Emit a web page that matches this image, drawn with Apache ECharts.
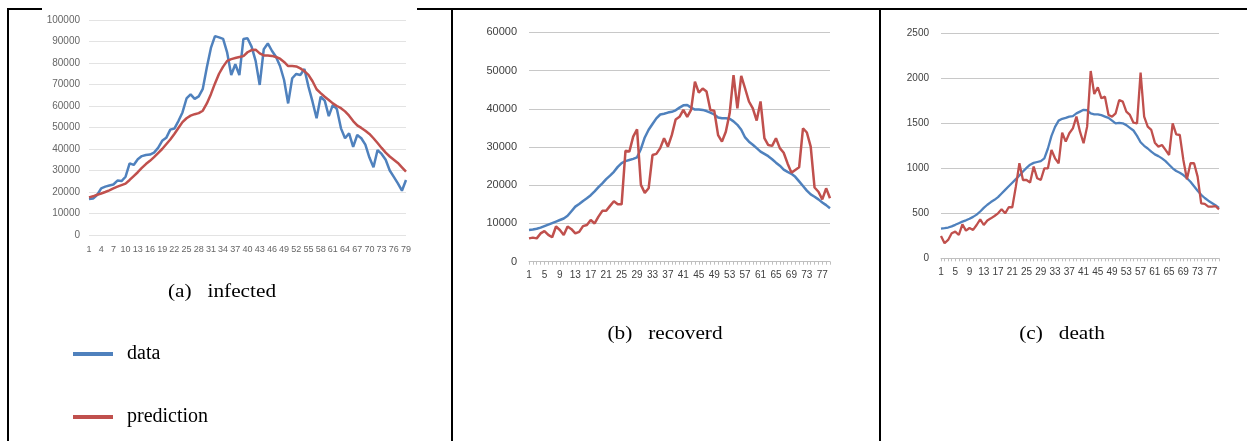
<!DOCTYPE html>
<html><head><meta charset="utf-8">
<script src="https://cdn.jsdelivr.net/npm/echarts@6/dist/echarts.min.js"></script>
<style>html,body{margin:0;padding:0;background:#fff}#c{width:1247px;height:441px}</style>
</head><body><div id="c"></div>
<script>
const days = ['1','2','3','4','5','6','7','8','9','10','11','12','13','14','15','16','17','18','19','20',
'21','22','23','24','25','26','27','28','29','30','31','32','33','34','35','36','37','38','39','40',
'41','42','43','44','45','46','47','48','49','50','51','52','53','54','55','56','57','58','59','60',
'61','62','63','64','65','66','67','68','69','70','71','72','73','74','75','76','77','78','79'];

const infectedData = [16700,17000,18600,21700,22500,23000,23500,25300,25100,27100,
33300,32600,35200,36700,37200,37400,38300,40500,43800,45200,
49000,49500,53000,57000,63500,65400,63300,64500,68000,78000,
87000,92500,91900,91200,84800,74400,79400,74400,91200,91500,
87600,81000,69800,86400,89100,85700,82900,78600,72100,61200,
72900,74900,74400,77200,69000,62000,54300,64300,62500,55300,
60500,58500,49600,45000,47300,41000,46500,45000,42000,36000,
31500,39500,37700,35000,30000,27000,24000,20600,25600];
const infectedPred = [17500,18000,18700,19300,20000,20800,21700,22500,23200,23900,
25600,27400,29200,31200,33000,34500,36200,38100,40000,42200,
44400,47000,49800,52500,54300,55500,56200,56700,57800,61200,
65500,70500,75000,78300,81000,81800,82300,82800,83200,85000,
86000,86200,84500,83500,83500,83300,82800,82000,80500,78600,
78600,78400,77500,76200,74500,71500,67800,66000,64300,62800,
61200,60000,59000,57500,55500,53000,51000,49800,48500,47000,
45000,42800,40500,38300,36500,35000,33500,31500,29500];

const recoveredData = [8300,8400,8600,8900,9300,9700,10100,10500,10900,11300,
12000,13200,14400,15100,15900,16600,17400,18400,19500,20500,
21600,22500,23500,24800,25800,26300,26600,26900,27300,29500,
32500,34500,36000,37500,38500,38700,39000,39200,39600,40300,
40900,41000,40300,39800,39800,39700,39400,39000,38500,37700,
37500,37500,37400,36700,35800,34500,32500,31400,30600,29700,
28800,28200,27600,26800,25900,25100,24100,23500,23000,22200,
21000,19800,18600,17600,17000,16300,15500,14800,14000];
const recoveredPred = [6100,6300,6100,7400,8000,7000,6400,9200,8300,7000,
9200,8500,7400,7800,9300,9600,10900,10000,11800,13300,
13300,14600,15800,15000,15000,29000,28800,32700,34600,20100,
18000,19200,27900,28200,29700,32300,30100,33100,37200,37900,
39700,37900,39700,47100,44200,45300,44500,39700,39500,33100,
31400,34000,38800,48800,40100,48600,45300,41900,40100,36900,
41900,32300,30500,30300,32300,29700,28500,25700,23300,24000,
24700,34900,33800,30100,19400,18300,16300,19200,16600];

const deathData = [330,335,342,355,372,390,408,422,440,460,
485,520,560,595,625,650,680,720,760,800,
840,880,920,965,1005,1040,1060,1070,1080,1110,
1220,1360,1460,1530,1550,1560,1575,1580,1610,1630,
1650,1645,1610,1600,1600,1590,1575,1560,1530,1500,
1505,1500,1480,1450,1420,1360,1290,1250,1220,1185,
1155,1135,1110,1080,1040,1000,970,950,925,890,
850,800,750,705,670,640,615,590,560];
const deathPred = [248,167,204,278,296,259,378,307,337,315,
370,433,370,419,444,470,500,544,500,567,
567,796,1056,870,870,841,1019,889,870,1000,
1000,1204,1111,1056,1396,1296,1389,1444,1574,1407,
1278,1463,2081,1826,1900,1778,1796,1593,1574,1611,
1759,1741,1630,1593,1507,1500,2063,1574,1463,1426,
1285,1241,1259,1204,1148,1500,1378,1370,1093,878,
1056,1056,907,611,604,574,574,581,544];

const BLUE = '#4f81bd', RED = '#c0504d';
const chart = echarts.init(document.getElementById('c'), null, {renderer:'canvas'});

function xAx(idx, interval, showLine, fs) {
  return {
    type:'category', gridIndex: idx, data: days, boundaryGap:false,
    axisLine:{show:showLine, lineStyle:{color:'#bfbfbf', width:1}},
    axisTick:{show:showLine, interval:0, length:3, lineStyle:{color:'#bfbfbf'}},
    axisLabel:{interval:interval, margin: showLine ? 9 : 10, fontSize:fs,
      fontFamily:'Liberation Sans Narrow, Liberation Sans, sans-serif', color: showLine ? '#404040' : '#666'},
    splitLine:{show:false}
  };
}
function yAx(idx, max, step, fs, margin, gridColor, labColor) {
  return {
    type:'value', gridIndex: idx, min:0, max:max, interval:step,
    axisLine:{show:false}, axisTick:{show:false},
    axisLabel:{fontSize:fs, margin:margin, fontFamily:'Liberation Sans, sans-serif', color:labColor,
      formatter: v => String(v)},
    splitLine:{lineStyle:{color:gridColor, width:1}}
  };
}
function ser(name, idx, values, color, w) {
  return {name:name, type:'line', xAxisIndex:idx, yAxisIndex:idx, data:values,
    symbol:'none', smooth:false, lineStyle:{color:color, width:w}, itemStyle:{color:color}};
}
function caption(x, y, text) {
  return {type:'text', x:x, y:y, scaleX:1.12,
    style:{text:text, font:'19px "Liberation Serif", serif', fill:'#000', align:'center', verticalAlign:'middle'}};
}

chart.setOption({
  animation:false,
  backgroundColor:'#ffffff',
  grid:[
    {left:89, top:20, width:317, height:215},
    {left:529, top:32.3, width:301, height:229.4},
    {left:941, top:33.3, width:278, height:225}
  ],
  xAxis:[xAx(0,2,false,9), xAx(1,3,true,10), xAx(2,3,true,10)],
  yAxis:[
    yAx(0,100000,10000,10,9,'#e3e3e3','#666'),
    yAx(1,60000,10000,11,12,'#c8c8c8','#404040'),
    yAx(2,2500,500,10,12,'#c8c8c8','#404040')
  ],
  legend:{
    data:['data','prediction'], orient:'vertical', left:73, top:344, padding:0,
    itemWidth:40, itemHeight:4, itemGap:43, icon:'rect',
    textStyle:{fontFamily:'Liberation Serif, serif', fontSize:20, color:'#000', lineHeight:20, padding:[0,0,0,9]}
  },
  series:[
    ser('data',0,infectedData,BLUE,2.5), ser('prediction',0,infectedPred,RED,2.5),
    ser('data',1,recoveredData,BLUE,2.5), ser('prediction',1,recoveredPred,RED,2.5),
    ser('data',2,deathData,BLUE,2.3), ser('prediction',2,deathPred,RED,2.3)
  ],
  graphic:[
    {type:'rect', shape:{x:7,y:8,width:35,height:2}, style:{fill:'#000'}},
    {type:'rect', shape:{x:417,y:8,width:830,height:2}, style:{fill:'#000'}},
    {type:'rect', shape:{x:7,y:8,width:2,height:433}, style:{fill:'#000'}},
    {type:'rect', shape:{x:451,y:8,width:2,height:433}, style:{fill:'#000'}},
    {type:'rect', shape:{x:879,y:8,width:2,height:433}, style:{fill:'#000'}},
    caption(222, 292, '(a)   infected'),
    caption(665, 334, '(b)   recoverd'),
    caption(1062, 334, '(c)   death')
  ]
});
</script></body></html>
